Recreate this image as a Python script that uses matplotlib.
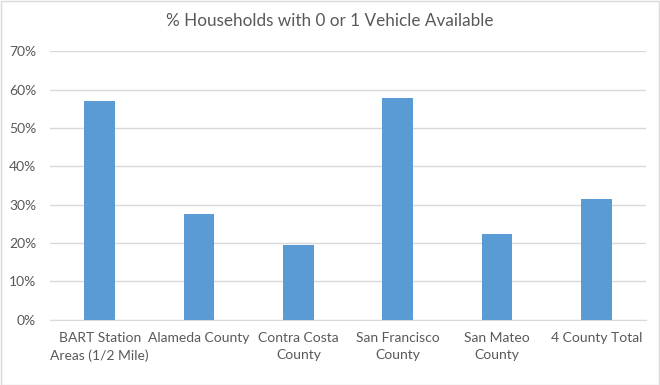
import matplotlib.pyplot as plt
from matplotlib.patches import Rectangle
from matplotlib.ticker import PercentFormatter

categories = ["BART Station\nAreas (1/2 Mile)", "Alameda County", "Contra Costa\nCounty",
              "San Francisco\nCounty", "San Mateo\nCounty", "4 County Total"]
values = [0.570, 0.276, 0.195, 0.578, 0.223, 0.315]
yticks = [0, 0.1, 0.2, 0.3, 0.4, 0.5, 0.6, 0.7]

plt.rcParams['font.family'] = ['Lato', 'DejaVu Sans']
grey = '#595959'

fig = plt.figure(figsize=(6.6, 3.85), dpi=100)
ax = fig.add_axes([0.0758, 0.1696, 0.903, 0.6971])

ax.bar(range(len(categories)), values, width=0.31, color='#5b9bd5', zorder=3)
ax.set_xlim(-0.5, len(categories) - 0.5)
ax.set_ylim(0, 0.7)
ax.set_yticks(yticks)
ax.yaxis.set_major_formatter(PercentFormatter(1.0, decimals=0))
ax.set_xticks(range(len(categories)))
ax.set_xticklabels(categories, linespacing=1.5)
ax.tick_params(axis='both', length=0, labelsize=10, labelcolor=grey)
ax.tick_params(axis='x', pad=9)
ax.tick_params(axis='y', pad=10)
ax.grid(axis='y', color='#d9d9d9', linewidth=1, zorder=0)
for side in ['top', 'right', 'left']:
    ax.spines[side].set_visible(False)
ax.spines['bottom'].set_color('#d9d9d9')

fig.suptitle("% Households with 0 or 1 Vehicle Available", y=0.965, fontsize=12.3, color=grey)

# chart border
fig.patches.append(Rectangle((0.001, 0.001), 0.997, 0.996, transform=fig.transFigure,
                             fill=False, edgecolor='#d9d9d9', linewidth=1))

fig.savefig("out.png", dpi=100)
